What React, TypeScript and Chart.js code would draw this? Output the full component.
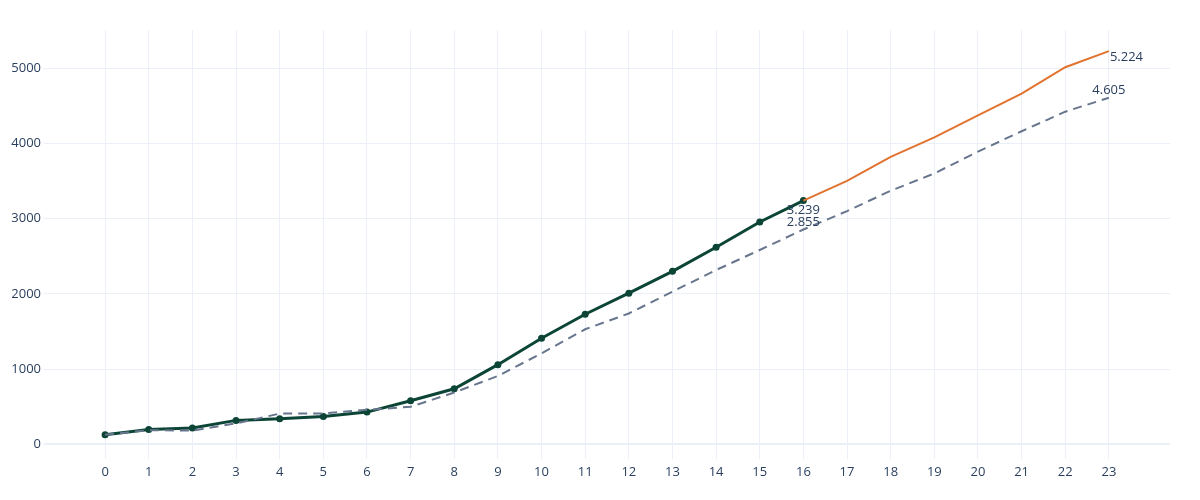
import React, { useEffect, useRef } from 'react';
import { Chart, registerables } from 'chart.js';

Chart.register(...registerables);

// hour index on the x axis
const xTicks = [0, 1, 2, 3, 4, 5, 6, 7, 8, 9, 10, 11, 12, 13, 14, 15, 16, 17, 18, 19, 20, 21, 22, 23];
const yTicks = [0, 1000, 2000, 3000, 4000, 5000];

// measured so far (0..16)
const actualValues = [130, 200, 220, 320, 340, 370, 430, 580, 740, 1060, 1410, 1730, 2010, 2300, 2620, 2955, 3239];
// projection from the last actual point (16..23)
const forecastStart = 16;
const forecastValues = [3239, 3500, 3820, 4080, 4370, 4660, 5010, 5224];
// reference curve (0..23)
const referenceValues = [
  130, 190, 185, 280, 410, 412, 460, 500, 690, 910, 1210, 1530, 1740, 2030, 2317, 2583, 2855,
  3100, 3370, 3600, 3890, 4160, 4420, 4605,
];

const GRID = '#EBF0F8';
const TEXT = '#2a3f5f';
const FONT = '"Open Sans", "Noto Sans", sans-serif';

const fmt = (v: number) => {
  const k = Math.floor(v / 1000);
  const r = String(Math.round(v % 1000)).padStart(3, '0');
  return k > 0 ? `${k}.${r}` : String(v);
};

// end-of-line value labels: dataset index, point index, where to put the text
const endLabels = [
  { ds: 2, idx: actualValues.length - 1, pos: 'below' },
  { ds: 1, idx: forecastValues.length - 1, pos: 'belowRight' },
  { ds: 0, idx: 16, pos: 'above' },
  { ds: 0, idx: referenceValues.length - 1, pos: 'above' },
];

const labelPlugin = {
  id: 'endLabels',
  afterDatasetsDraw(chart: any) {
    const ctx = chart.ctx;
    ctx.save();
    ctx.font = `13px ${FONT}`;
    ctx.fillStyle = TEXT;
    ctx.textBaseline = 'middle';
    endLabels.forEach((l) => {
      const meta = chart.getDatasetMeta(l.ds);
      const pt = meta.data[l.idx];
      if (!pt) return;
      const raw = chart.data.datasets[l.ds].data[l.idx].y;
      const text = fmt(raw);
      if (l.pos === 'below') {
        ctx.textAlign = 'center';
        ctx.fillText(text, pt.x, pt.y + 10);
      } else if (l.pos === 'above') {
        ctx.textAlign = 'center';
        ctx.fillText(text, pt.x, pt.y - 7);
      } else {
        ctx.textAlign = 'left';
        ctx.fillText(text, pt.x + 1, pt.y + 6);
      }
    });
    ctx.restore();
  },
};

const App: React.FC = () => {
  const canvasRef = useRef<HTMLCanvasElement | null>(null);
  const chartRef = useRef<Chart | null>(null);

  useEffect(() => {
    document.body.style.margin = '0';
    if (!canvasRef.current) return;
    if (chartRef.current) chartRef.current.destroy();

    chartRef.current = new Chart(canvasRef.current, {
      type: 'line',
      data: {
        datasets: [
          {
            label: 'reference',
            data: referenceValues.map((v, i) => ({ x: i, y: v })),
            borderColor: '#67758d',
            borderWidth: 2,
            borderDash: [9, 6],
            pointRadius: 0,
            fill: false,
          },
          {
            label: 'forecast',
            data: forecastValues.map((v, i) => ({ x: forecastStart + i, y: v })),
            borderColor: '#e2732f',
            borderWidth: 2,
            pointRadius: 0,
            fill: false,
          },
          {
            label: 'actual',
            data: actualValues.map((v, i) => ({ x: i, y: v })),
            borderColor: '#0c4536',
            backgroundColor: '#0c4536',
            borderWidth: 3,
            pointRadius: 3.5,
            pointBorderWidth: 0,
            fill: false,
          },
        ],
      },
      options: {
        animation: false,
        responsive: true,
        maintainAspectRatio: false,
        layout: { padding: { top: 30, right: 30, left: 0, bottom: 0 } },
        plugins: {
          legend: { display: false },
          tooltip: { enabled: false },
        },
        scales: {
          x: {
            type: 'linear',
            min: -1.4,
            max: 24.4,
            border: { display: false },
            grid: { color: GRID, drawTicks: false },
            ticks: {
              color: TEXT,
              font: { family: FONT, size: 13 },
              padding: 5,
              callback: (v: any) => String(v),
            },
            afterBuildTicks: (axis: any) => {
              axis.ticks = xTicks.map((v) => ({ value: v }));
            },
            afterFit: (scale: any) => {
              scale.height = 41;
            },
          },
          y: {
            type: 'linear',
            min: -193,
            max: 5505,
            border: { display: false },
            grid: {
              color: GRID,
              drawTicks: false,
              lineWidth: (c: any) => (c.tick && c.tick.value === 0 ? 2 : 1),
            },
            ticks: {
              color: TEXT,
              font: { family: FONT, size: 13 },
              padding: 3,
              callback: (v: any) => String(v),
            },
            afterBuildTicks: (axis: any) => {
              axis.ticks = yTicks.map((v) => ({ value: v }));
            },
            afterFit: (scale: any) => {
              scale.width = 44;
            },
          },
        },
      },
      plugins: [labelPlugin],
    } as any);

    return () => {
      if (chartRef.current) {
        chartRef.current.destroy();
        chartRef.current = null;
      }
    };
  }, []);

  return (
    <div style={{ width: '1200px', height: '500px', position: 'relative' }}>
      <canvas ref={canvasRef} />
    </div>
  );
};

export default App;
